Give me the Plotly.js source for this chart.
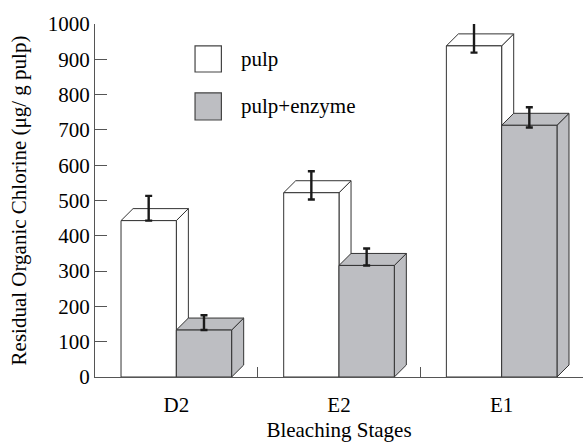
<!DOCTYPE html>
<html>
<head>
<meta charset="utf-8">
<script src="https://cdn.plot.ly/plotly-3.0.1.min.js"></script>
<style>html,body{margin:0;padding:0;background:#fff;}</style>
</head>
<body>
<div id="chart" style="width:584px;height:442px;"></div>
<script>
// ---- data ----
const stages = ['D2', 'E2', 'E1'];
const seriesNames = ['pulp', 'pulp+enzyme'];
const pulp = [443, 522, 938];
const pulpErrUp = [70, 61, 70];
const pulpErrDown = [0, 19, 19];
const enzyme = [133, 316, 713];
const enzymeErrUp = [42, 48, 51];
const enzymeErrDown = [0, 0, 6];
const yTickVals = [0, 100, 200, 300, 400, 500, 600, 700, 800, 900, 1000];

// ---- style ----
const FONT = 'Liberation Serif, Times New Roman, serif';
const TXT = '#000';
const fills = ['#ffffff', '#bdbec2'];
const edge = '#333333';
const bargap = 0.32;
const barW = (1 - bargap) / 2;
const depthX = 0.074;   // in category units
const depthY = 34;      // in value units

const seriesVals = [pulp, enzyme];
const errUp = [pulpErrUp, enzymeErrUp];
const errDown = [pulpErrDown, enzymeErrDown];

const traces = seriesVals.map((vals, k) => ({
  type: 'bar',
  name: seriesNames[k],
  x: stages,
  y: vals,
  marker: {color: fills[k], line: {color: edge, width: 1}},
  error_y: {type: 'data', symmetric: false, array: errUp[k], arrayminus: errDown[k],
            color: '#1a1a1a', thickness: 2.4, width: 3.5},
  cliponaxis: false,
  showlegend: false,
  hoverinfo: 'x+y'
}));

// 3D faces (top + side), built from the data
const shapes = [];
seriesVals.forEach((vals, k) => {
  vals.forEach((v, i) => {
    const x0 = i + (k === 0 ? -barW : 0);
    const x1 = x0 + barW;
    const top = `M${x0},${v} L${x1},${v} L${x1 + depthX},${v + depthY} L${x0 + depthX},${v + depthY} Z`;
    const side = `M${x1},0 L${x1},${v} L${x1 + depthX},${v + depthY} L${x1 + depthX},${depthY} Z`;
    [side, top].forEach(p => shapes.push({
      type: 'path', path: p, xref: 'x', yref: 'y', layer: 'below',
      fillcolor: fills[k], line: {color: edge, width: 1}
    }));
  });
});

// custom legend
const legendBoxes = [[0.205, 0.259, 0.864, 0.938], [0.205, 0.259, 0.728, 0.805]];
const annotations = [];
seriesNames.forEach((nm, k) => {
  const b = legendBoxes[k];
  shapes.push({type: 'rect', xref: 'paper', yref: 'paper', x0: b[0], x1: b[1], y0: b[2], y1: b[3],
    fillcolor: fills[k], line: {color: '#444', width: 1.2}, layer: 'above'});
  annotations.push({xref: 'paper', yref: 'paper', x: 0.296, y: (b[2] + b[3]) / 2,
    xanchor: 'left', yanchor: 'middle', text: nm, showarrow: false,
    font: {family: FONT, size: 21, color: TXT}});
});

const layout = {
  width: 584, height: 442,
  margin: {l: 95, r: 1, t: 24, b: 65},
  paper_bgcolor: '#fff', plot_bgcolor: '#fff',
  barmode: 'group', bargap: bargap, bargroupgap: 0,
  font: {family: FONT, size: 21, color: TXT},
  xaxis: {
    type: 'category', range: [-0.5, 2.5], tickson: 'boundaries',
    ticks: 'inside', ticklen: 10, tickcolor: '#555', showline: true, linecolor: '#555', linewidth: 1,
    showgrid: false, zeroline: false, ticklabelstandoff: 9,
    tickfont: {family: FONT, size: 21, color: TXT},
    title: {text: 'Bleaching Stages', font: {family: FONT, size: 21, color: TXT}, standoff: 6}
  },
  yaxis: {
    range: [0, 1000], tickvals: yTickVals, ticks: 'inside', ticklen: 12, tickcolor: '#555',
    showline: true, linecolor: '#555', linewidth: 1, showgrid: false, zeroline: false,
    tickfont: {family: FONT, size: 21, color: TXT},
    title: {text: 'Residual Organic Chlorine (μg/ g pulp)', font: {family: FONT, size: 21, color: TXT}, standoff: 15}
  },
  shapes: shapes,
  annotations: annotations,
  showlegend: false
};

Plotly.newPlot('chart', traces, layout, {displayModeBar: false, staticPlot: true});
</script>
</body>
</html>
